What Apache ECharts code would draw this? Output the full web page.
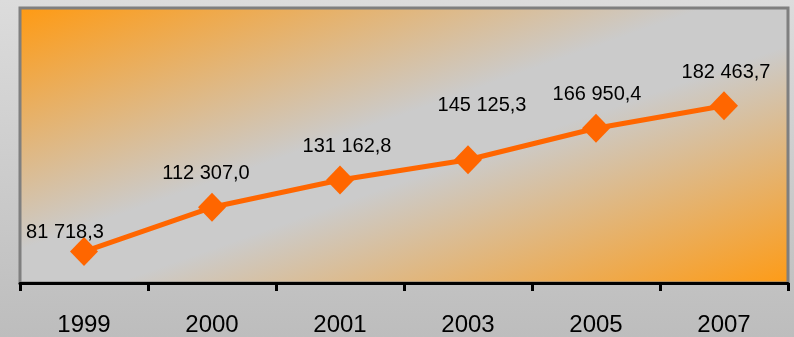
<!DOCTYPE html>
<html>
<head>
<meta charset="utf-8">
<script src="https://cdn.jsdelivr.net/npm/echarts@6/dist/echarts.min.js"></script>
<style>
  html, body { margin: 0; padding: 0; }
  #chart { width: 794px; height: 337px; }
</style>
</head>
<body>
<div id="chart"></div>
<script>
// Yearly values
const years = ['1999', '2000', '2001', '2003', '2005', '2007'];
const values = [81718.3, 112307.0, 131162.8, 145125.3, 166950.4, 182463.7];

// Per-point nudges for the value labels (x, y in px)
const labelShift = [[-19, 14], [-6, 0], [7, 0], [14, -21], [1, 0], [2, 0]];

// "182463.7" -> "182 463,7"
function fmt(v) {
  const parts = v.toFixed(1).split('.');
  return parts[0].replace(/\B(?=(\d{3})+(?!\d))/g, ' ') + ',' + parts[1];
}

const chart = echarts.init(document.getElementById('chart'), null, { renderer: 'canvas' });

const font = '"Liberation Sans", Arial, sans-serif';

chart.setOption({
  animation: false,
  backgroundColor: {
    type: 'linear', x: 0, y: 0, x2: 0, y2: 1,
    colorStops: [
      { offset: 0, color: '#dcdcdc' },
      { offset: 1, color: '#bdbdbd' }
    ]
  },
  grid: {
    left: 20, right: 6, top: 8, bottom: 54,
    show: true,
    borderColor: '#7f7f7f',
    borderWidth: 3,
    // diagonal fill: orange corners, grey band along the anti-diagonal
    backgroundColor: {
      type: 'linear', x: 0, y: 0, x2: 0.226, y2: 1.774,
      colorStops: [
        { offset: 0, color: '#ff9a12' },
        { offset: 0.44, color: '#cbcbcb' },
        { offset: 0.56, color: '#cbcbcb' },
        { offset: 1, color: '#ff9a12' }
      ]
    }
  },
  xAxis: {
    type: 'category',
    data: years,
    boundaryGap: true,
    axisLine: { show: true, lineStyle: { color: '#000', width: 3 } },
    axisTick: { show: true, length: 8, lineStyle: { color: '#000', width: 3 } },
    axisLabel: { color: '#000', fontSize: 24, fontFamily: font, margin: 30 },
    splitLine: { show: false }
  },
  yAxis: {
    type: 'value',
    min: 60000,
    max: 250000,
    show: false,
    splitLine: { show: false }
  },
  series: [{
    type: 'line',
    data: values.map((v, i) => ({
      value: v,
      label: { offset: labelShift[i] }
    })),
    symbol: 'diamond',
    symbolSize: [28, 29],
    lineStyle: { color: '#ff6600', width: 5 },
    itemStyle: { color: '#ff6600' },
    label: {
      show: true,
      position: 'top',
      distance: 9,
      color: '#000',
      fontSize: 20,
      fontFamily: font,
      formatter: p => fmt(p.value)
    }
  }]
});
</script>
</body>
</html>
